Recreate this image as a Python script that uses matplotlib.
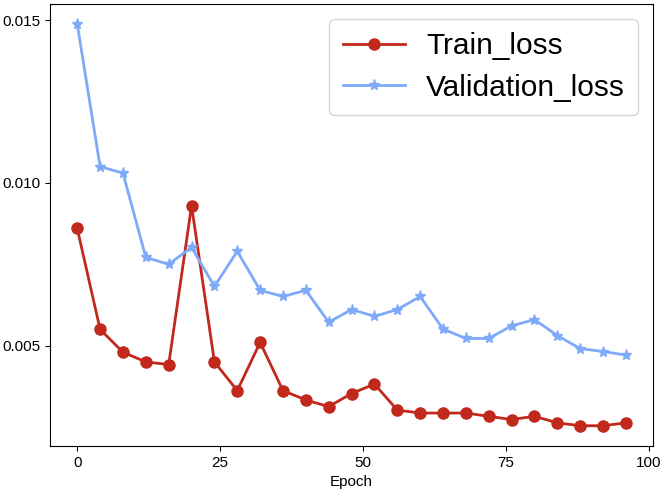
import matplotlib.pyplot as plt

plt.rcParams['font.family'] = ['Liberation Sans', 'DejaVu Sans']

epochs = list(range(0, 100, 4))
train_loss = [0.0086, 0.0055, 0.0048, 0.0045, 0.00442, 0.0093, 0.0045, 0.00362,
              0.0051, 0.00362, 0.00333, 0.00313, 0.00353, 0.00382, 0.00302, 0.00293,
              0.00293, 0.00293, 0.00283, 0.00273, 0.00283, 0.00263, 0.00254, 0.00254,
              0.00263]
val_loss = [0.01488, 0.0105, 0.0103, 0.00771, 0.0075, 0.00802, 0.00682, 0.0079,
            0.0067, 0.00651, 0.0067, 0.00572, 0.00611, 0.0059, 0.00611, 0.00651,
            0.00551, 0.00522, 0.00522, 0.00561, 0.0058, 0.00531, 0.00491, 0.00482,
            0.00471]

fig, ax = plt.subplots(figsize=(6.64, 4.91), dpi=100)
ax.plot(epochs, train_loss, color='#c0291b', marker='o', markersize=8,
        linewidth=2, label='Train_loss')
ax.plot(epochs, val_loss, color='#7fa9f9', marker='*', markersize=8,
        linewidth=2, label='Validation_loss')
ax.set_xlabel('Epoch', fontsize=11)
ax.set_xticks([0, 25, 50, 75, 100])
ax.set_yticks([0.005, 0.010, 0.015])
ax.tick_params(labelsize=11)
ax.legend(loc='upper right', fontsize=21.5, handlelength=2.1, handletextpad=0.7,
          borderpad=0.45, labelspacing=0.45, borderaxespad=0.5)
plt.subplots_adjust(left=0.075, right=0.984, top=0.992, bottom=0.092)
plt.savefig('out.png')
